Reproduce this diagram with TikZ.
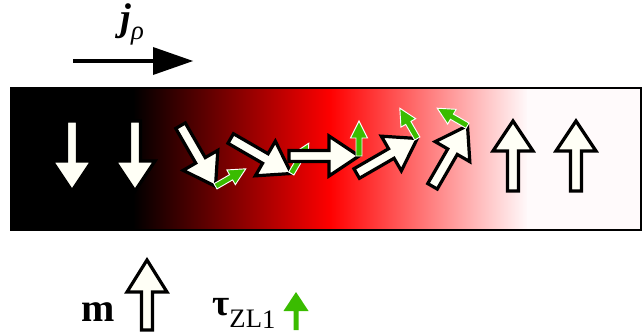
\documentclass[tikz,border=0pt]{standalone}
\usepackage{fontspec}
\setmainfont{Liberation Serif}
\usetikzlibrary{calc}
\definecolor{ivory}{RGB}{255,255,246}
\definecolor{tgreen}{RGB}{58,188,0}
\definecolor{pale}{RGB}{255,250,251}
\tikzset{
  mfill/.style={fill=ivory,draw=black,line width=2.4pt,line join=miter},
  tfill/.style={fill=tgreen,draw=white,line width=0.7pt,line join=miter},
  lbl/.style={inner sep=0pt,anchor=base west},
}
\newcommand\magarrow[3]{%
  \begin{scope}[shift={(#1,177)},rotate=#2]
    \filldraw[mfill] (-35,-5.5) -- (5,-5.5) -- (5,-20) -- (35,0) -- (5,20) -- (5,5.5) -- (-35,5.5) -- cycle;
    #3
  \end{scope}}
\newcommand\torque{%
  \filldraw[tfill] (32,0) -- (32,18) -- (26.5,18) -- (35,35) -- (43.5,18) -- (38,18) -- (38,0) -- cycle;}
\begin{document}
\begin{tikzpicture}[x=0.75pt,y=0.75pt]
\useasboundingbox (0,0) rectangle (644,333);
% bar background
\fill[black] (11,103) rectangle (134,245);
\shade[left color=black,right color=red] (133,103) rectangle (331,245);
\shade[left color=red,right color=pale] (330,103) rectangle (528,245);
\fill[pale] (527,103) rectangle (641,245);
\draw[line width=1.9pt] (11,103) rectangle (641,245);
% magnetisation arrows
\magarrow{72}{-90}{}
\magarrow{135}{-90}{}
\magarrow{198}{-60}{\torque}
\magarrow{261}{-30}{\torque}
\magarrow{324}{0}{\torque}
\magarrow{387}{30}{\torque}
\magarrow{450}{60}{\torque}
\magarrow{513}{90}{}
\magarrow{576}{90}{}
% current arrow
\coordinate (js) at (73,272);
\coordinate (je) at (156,272);
\draw[line width=3.4pt] (js) -- (je);
\fill (153,286) -- (193,272) -- (153,258) -- cycle;
\node[lbl] (jl) at (120,302) {{\fontsize{29}{29}\selectfont\bfseries\itshape j}\raisebox{-6.5pt}{\fontsize{20}{20}\selectfont\itshape ρ}};
% legend
\node[lbl] (ml) at (81,12) {\fontsize{30}{30}\selectfont\bfseries m};
\begin{scope}[shift={(147,38)},rotate=90]
  \filldraw[mfill] (-35,-5.5) -- (3,-5.5) -- (3,-20) -- (35,0) -- (3,20) -- (3,5.5) -- (-35,5.5) -- cycle;
\end{scope}
\node[lbl] (tl) at (212,18) {{\fontsize{28}{28}\selectfont\bfseries τ}\raisebox{-9.5pt}{\fontsize{20}{20}\selectfont ZL\raisebox{-0.5pt}{1}}};
\fill[tgreen] (293.5,3) -- (293.5,22) -- (283.5,22) -- (296,41) -- (308.5,22) -- (298.5,22) -- (298.5,3) -- cycle;
\end{tikzpicture}
\end{document}
